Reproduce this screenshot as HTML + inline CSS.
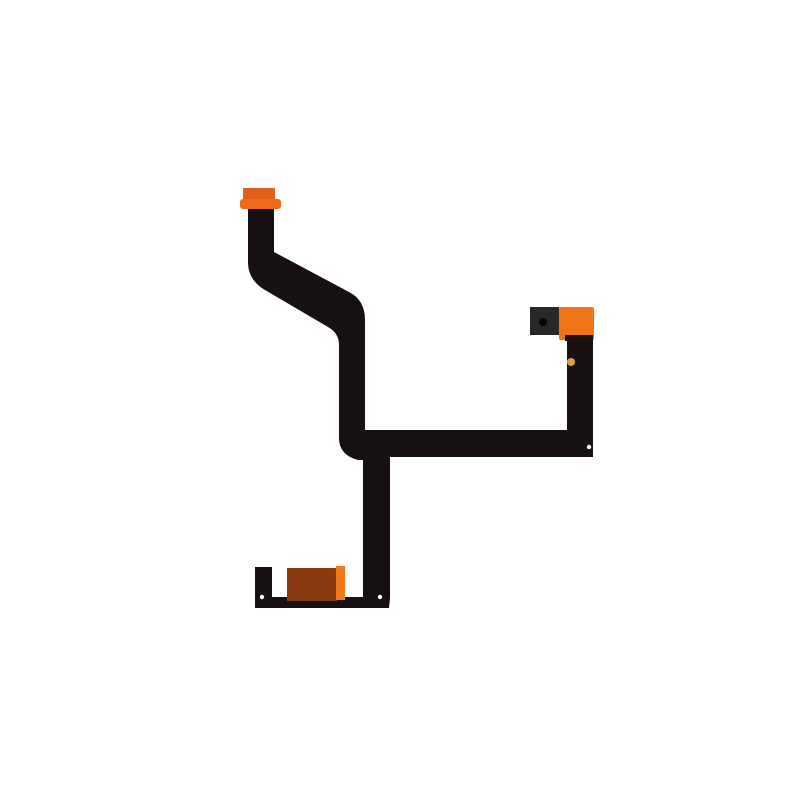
<!DOCTYPE html>
<html><head><meta charset="utf-8"><style>html,body{margin:0;padding:0;background:#fff}svg{display:block}</style></head>
<body>
<svg width="800" height="800" viewBox="0 0 800 800" xmlns="http://www.w3.org/2000/svg">
<rect width="800" height="800" fill="#fff"/>
<path d="M248,208 L274,208 L274,252 L349,292 Q365,300 365,320 L365,430 L567,430 L567,338 L593,338 L593,457 L390,457 L390,598 L389,608 L255,608 L255,567 L272,567 L272,597 L363,597 L363,460 L358,460 Q339,455 339,438 L339,345 Q339,333 328,327 L265,290 Q248,280 248,262 Z" fill="#161110"/>
<!-- top connector -->
<rect x="243" y="188" width="32" height="13" fill="#e0601a" rx="1"/>
<rect x="240" y="199" width="41" height="10" fill="#f06a1c" rx="3"/>
<!-- camera -->
<rect x="530" y="307" width="29" height="28" fill="#2a2826"/>
<circle cx="543" cy="322" r="4" fill="#050505"/>
<rect x="559" y="307" width="35" height="33" fill="#f07418" rx="2"/>
<rect x="565" y="335" width="28" height="6" fill="#1a1210"/>
<circle cx="571" cy="362" r="4" fill="#d9a040"/>
<!-- bottom orange -->
<rect x="287" y="568" width="50" height="33" fill="#8a3a10"/>
<rect x="336" y="566" width="9" height="34" fill="#f07a18"/>
<!-- holes -->
<circle cx="589" cy="447" r="2.2" fill="#fff"/>
<circle cx="262" cy="597" r="2.2" fill="#fff"/>
<circle cx="380" cy="597" r="2.2" fill="#fff"/>
</svg>
</body></html>
